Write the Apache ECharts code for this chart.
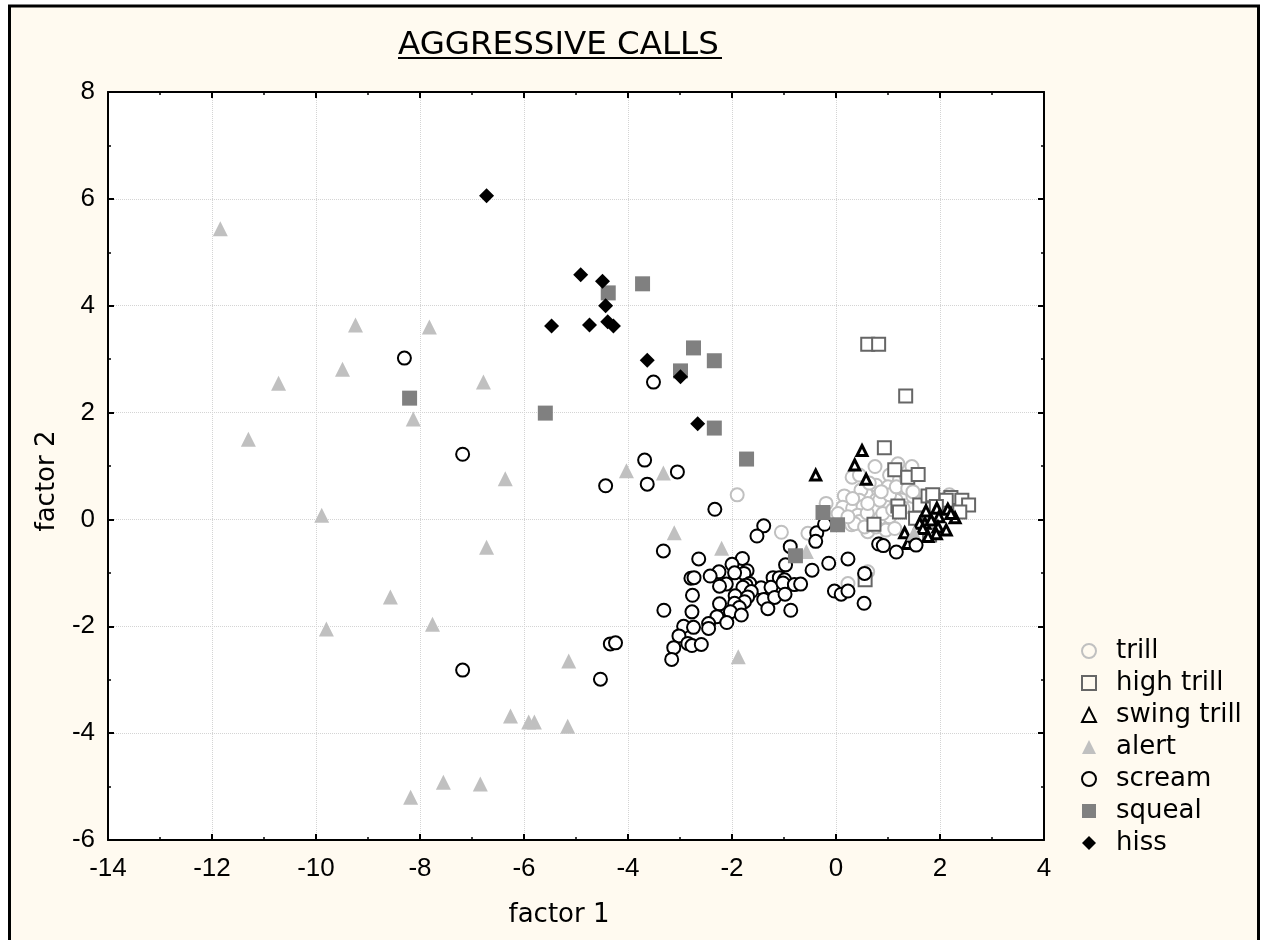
<!DOCTYPE html>
<html>

<head>
	<meta charset="utf-8">
	<script type="text/javascript" src="https://cdn.jsdelivr.net/npm/echarts@6/dist/echarts.min.js"></script>
	<style>
		html, body { margin: 0; padding: 0; background: #fff; }
	</style>
</head>

<body>
	<div id="main" style="width: 1261px; height: 940px;"></div>

	<script type="text/javascript">
		var trill = [[.75,.99],[1.19,1.04],[1.46,.99],[.31,.79],[.45,.83],[1.03,.83],[.16,.44],[.58,.48],[.77,.64],[1.0,.61],
			[1.35,.44],[.48,.55],[.64,.68],[.77,.36],[.45,.36],[.13,.23],[.32,.21],[.52,.24],[.74,.21],[.96,.24],
			[1.16,.36],[.42,.08],[.61,.05],[.84,.02],[1.03,.05],[.45,-.04],[.61,-.23],[.77,-.14],[.96,-.2],[1.13,-.17],
			[.04,.11],[-.19,.3],[-.54,-.26],[-1.05,-.24],[1.48,.43],[2.18,.46],[1.22,.74],[.23,-1.2],[.61,-.98],[.84,-.45],
			[-1.9,.46],[1.3,.6],[.9,.45],[.6,.12],[1.2,.2],[.3,-.1],[.84,.36],[1.03,.46],[1.16,.61],[1.35,.8],
			[1.29,.21],[1.38,.58],[.9,.11],[1.09,.18],[.32,.39],[.36,-.08],[.55,-.14],[.23,.05],[1.48,.52],[.87,.52],[.61,.3]];
		var highTrill = [[.61,3.28],[.82,3.28],[1.34,2.31],[.93,1.34],[1.13,.93],[1.38,.79],[1.58,.84],[1.19,.25],[1.22,.14],[.73,-.09],
			[1.61,.27],[1.77,.44],[1.86,.46],[1.53,.02],[2.21,.41],[2.42,.36],[2.55,.27],[2.12,.36],[1.93,.24],[2.38,.14],
			[1.8,-.29],[.56,-1.13]];
		var swingTrill = [[.5,1.29],[.36,1.02],[-.39,.83],[.58,.75],[1.32,-.25],[1.38,-.45],[1.73,.16],[1.94,.21],[1.98,.05],[2.15,.19],
			[2.29,.03],[2.21,.11],[1.71,-.07],[1.61,-.07],[1.96,-.14],[2.12,-.2],[1.93,-.27],[1.77,-.32],[1.83,-.01],[1.67,-.17]];
		var alert_ = [[-11.84,5.44],[-9.24,3.64],[-7.82,3.6],[-9.49,2.81],[-10.72,2.55],[-11.3,1.5],[-6.78,2.57],[-8.13,1.88],[-6.36,.76],[-9.89,.08],
			[-6.72,-.52],[-8.57,-1.45],[-9.8,-2.05],[-7.76,-1.96],[-5.14,-2.65],[-6.26,-3.68],[-5.91,-3.79],[-5.8,-3.79],[-5.16,-3.87],[-8.18,-5.2],
			[-7.55,-4.92],[-6.84,-4.95],[-4.03,.91],[-3.32,.87],[-3.11,-.25],[-2.2,-.54],[-1.88,-2.57],[-.57,-.6],[1.5,-.26],[-2.76,-1.92]];
		var scream = [[-2.33,.19],[-1.39,-.12],[-1.52,-.31],[-.37,-.25],[-.22,-.09],[-.39,-.41],[-.88,-.51],[-3.32,-.59],[-2.64,-.74],[-1.8,-.73],
			[-2.0,-.84],[-.97,-.85],[-.46,-.95],[-.14,-.82],[.23,-.74],[-1.71,-.96],[-1.77,-1.01],[-2.25,-.98],[-2.42,-1.06],[-1.95,-1.0],
			[-2.79,-1.1],[-2.73,-1.09],[-2.11,-1.21],[-2.24,-1.25],[-1.66,-1.2],[-1.73,-1.23],[-1.79,-1.27],[-1.44,-1.28],[-1.21,-1.09],[-1.09,-1.09],
			[-.99,-1.13],[-1.25,-1.27],[-1.02,-1.19],[-.8,-1.22],[-.68,-1.21],[-.03,-1.34],[.1,-1.4],[.23,-1.34],[-2.76,-1.42],[-1.94,-1.43],
			[-1.63,-1.35],[-1.39,-1.5],[-1.18,-1.46],[-.98,-1.4],[-1.7,-1.45],[-1.76,-1.54],[-2.24,-1.58],[-1.95,-1.57],[-1.86,-1.65],[-3.31,-1.7],
			[-2.77,-1.73],[-2.03,-1.73],[-1.31,-1.67],[-.87,-1.7],[-1.82,-1.79],[-2.29,-1.82],[-2.1,-1.93],[-2.45,-1.95],[-2.45,-2.04],[-2.93,-2.0],
			[-2.74,-2.02],[-3.02,-2.18],[-2.85,-2.32],[-2.77,-2.36],[-2.59,-2.34],[-3.12,-2.4],[-3.16,-2.62],[.55,-1.01],[.54,-1.57],[.82,-.46],
			[.91,-.49],[1.16,-.61],[1.54,-.48],[-8.3,3.02],[-7.18,1.22],[-7.18,-2.82],[-3.51,2.57],[-3.68,1.11],[-4.43,.63],[-3.63,.66],
			[-3.05,.89],[-4.34,-2.33],[-4.24,-2.31],[-4.53,-2.99]];
		var squeal = [[-4.38,4.24],[-3.72,4.41],[-2.74,3.21],[-2.34,2.97],[-2.99,2.78],[-5.59,1.99],[-8.2,2.27],[-2.34,1.71],[-1.72,1.13],[-.25,.13],
			[.03,-.1],[-.78,-.68]];
		var hiss = [[-6.72,6.06],[-4.91,4.58],[-4.49,4.46],[-4.43,4.0],[-4.39,3.7],[-4.28,3.62],[-5.47,3.62],[-4.74,3.64],[-3.63,2.98],[-2.99,2.67],
			[-2.66,1.79]];

		var chart = echarts.init(document.getElementById("main"));

		function axisStyle(show) {
			return {
				type: 'value',
				axisLine: { show: true, onZero: false, lineStyle: { color: '#000', width: 2 } },
				axisTick: { show: true, inside: true, length: 6, lineStyle: { color: '#000', width: 2 } },
				minorTick: { show: true, splitNumber: 2, length: 3, lineStyle: { color: '#000', width: 1.5 } },
				axisLabel: { show: show, color: '#000', fontFamily: 'Liberation Sans', fontSize: 26, margin: 13 },
				splitLine: { show: show, lineStyle: { color: '#d4d4d4', type: 'dotted', width: 1 } },
				minorSplitLine: { show: false }
			};
		}

		var xBottom = axisStyle(true);
		xBottom.min = -14; xBottom.max = 4; xBottom.interval = 2;
		xBottom.axisLabel.margin = 16;
		xBottom.name = 'factor 1';
		xBottom.nameLocation = 'middle';
		xBottom.nameGap = 62;
		xBottom.nameTextStyle = { color: '#000', fontFamily: 'DejaVu Sans', fontSize: 26, padding: [0, 34, 0, 0] };
		var xTop = axisStyle(false);
		xTop.min = -14; xTop.max = 4; xTop.interval = 2; xTop.position = 'top';

		var yLeft = axisStyle(true);
		yLeft.min = -6; yLeft.max = 8; yLeft.interval = 2;
		yLeft.name = 'factor 2';
		yLeft.nameLocation = 'middle';
		yLeft.nameGap = 48;
		yLeft.nameTextStyle = { color: '#000', fontFamily: 'DejaVu Sans', fontSize: 26, padding: [0, 30, 0, 0] };
		var yRight = axisStyle(false);
		yRight.min = -6; yRight.max = 8; yRight.interval = 2; yRight.position = 'right';

		function ser(name, data, symbol, size, fill, stroke, bw) {
			return {
				name: name, type: 'scatter', data: data, symbol: symbol, symbolSize: size,
				xAxisIndex: 0, yAxisIndex: 0, silent: true,
				itemStyle: { color: fill, borderColor: stroke, borderWidth: bw, opacity: 1 }
			};
		}

		chart.setOption({
			animation: false,
			title: {
				text: 'AGGRESSIVE CALLS', left: 398, top: 29, padding: 0,
				textStyle: { color: '#000', fontFamily: 'DejaVu Sans', fontWeight: 'normal', fontSize: 32.5 }
			},
			legend: {
				orient: 'vertical', left: 1081, top: 638, padding: 0, itemWidth: 14, itemHeight: 14, itemGap: 6,
				textStyle: { color: '#000', fontFamily: 'DejaVu Sans', fontSize: 26, lineHeight: 26, padding: [0, 0, 0, 15] },
				data: ['trill', 'high trill', 'swing trill', 'alert', 'scream', 'squeal', 'hiss'].map(function (n, i) {
					return i == 0 || i == 1 || i == 2 || i == 4 ? { name: n, itemStyle: { color: 'transparent' } } : { name: n };
				})
			},
			grid: { left: 108, top: 92, width: 936, height: 748, containLabel: false },
			xAxis: [xBottom, xTop],
			yAxis: [yLeft, yRight],
			graphic: [
				{ type: 'rect', z: -10, silent: true, shape: { x: 9.5, y: 6, width: 1249, height: 950 },
					style: { fill: '#fffaf0', stroke: '#000', lineWidth: 3 } },
				{ type: 'rect', z: -9, silent: true, shape: { x: 108, y: 92, width: 936, height: 748 }, style: { fill: '#fff' } },
				{ type: 'line', silent: true, shape: { x1: 398, y1: 58, x2: 722, y2: 58 }, style: { stroke: '#000', lineWidth: 2 } }
			],
			series: [
				ser('trill', trill, 'circle', 13, '#fff', '#c0c0c0', 2),
				ser('high trill', highTrill, 'rect', 13, '#fff', '#666', 2),
				ser('swing trill', swingTrill, 'triangle', 10, '#fff', '#000', 3),
				ser('alert', alert_, 'triangle', 15, '#c0c0c0', '#c0c0c0', 0),
				ser('scream', scream, 'circle', 13, '#fff', '#000', 2),
				ser('squeal', squeal, 'rect', 15, '#808080', '#808080', 0),
				ser('hiss', hiss, 'diamond', 15, '#000', '#000', 0)
			]
		});
	</script>
</body>

</html>
